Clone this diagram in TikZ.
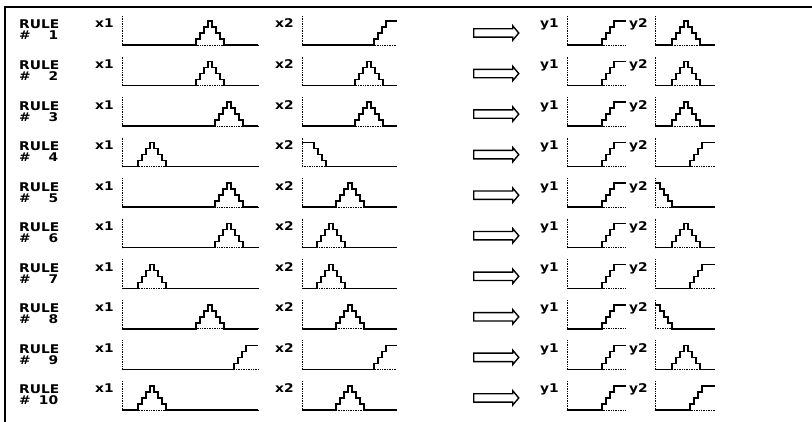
\documentclass[tikz,border=0pt]{standalone}
\usepackage{fontspec}
\usepackage{tikz}
\usetikzlibrary{shapes.arrows}
\newfontfamily\pixfont{DejaVu Sans}[FakeStretch=1.15]

% stepped membership functions: axis x, end x, baseline y, position
\newcommand{\memtri}[4]{\draw[mf] (#1,#3) -| ({#4-14},{#3-6}) -| ({#4-10},{#3-12}) -| ({#4-6},{#3-18}) -| ({#4-2},{#3-24}) -| ({#4+2},{#3-18}) -| ({#4+6},{#3-12}) -| ({#4+10},{#3-6}) -| ({#4+14},#3) -- (#2,#3);}
\newcommand{\memup}[4]{\draw[mf] (#1,#3) -| (#4,{#3-6}) -| ({#4+4},{#3-12}) -| ({#4+8},{#3-18}) -| ({#4+12},{#3-24}) -- (#2,{#3-24});}
\newcommand{\memdown}[4]{\draw[mf] (#1,{#3-24}) -| ({#4-12},{#3-18}) -| ({#4-8},{#3-12}) -| ({#4-4},{#3-6}) -| (#4,#3) -- (#2,#3);}
\newcommand{\memplot}[5]{%
  \draw[axis] (#2,{#4-29}) -- (#2,#4) -- (#3,#4);
  \csname mem#1\endcsname{#2}{#3}{#4}{#5}}

\begin{document}
\begin{tikzpicture}[
    x=1pt, y=-1pt,
    lbl/.style={font={\pixfont\bfseries\fontsize{12}{12}\selectfont}, inner sep=0pt, anchor=base west},
    axis/.style={line width=0.8pt, dash pattern=on 0.8pt off 0.9pt},
    mf/.style={line width=1.5pt},
    impl/.style={single arrow, draw, line width=1.4pt, minimum height=45pt, inner xsep=0pt, inner ysep=3.5pt,
      single arrow head extend=3pt, single arrow tip angle=100}]
  \useasboundingbox (0,0) rectangle (812,422);
  \draw[line width=1.8pt] (812,7) -- (5,7) -- (5,422);
  \foreach \ru/\fa/\pa/\fb/\pb/\fy/\py in {1/tri/210/up/374/tri/686, 2/tri/210/tri/369/tri/686,
      3/tri/229/tri/369/tri/686, 4/tri/152/down/326/up/690, 5/tri/229/tri/350/down/672,
      6/tri/229/tri/331/tri/686, 7/tri/152/tri/331/up/690, 8/tri/210/tri/350/down/672,
      9/up/234/up/374/tri/686, 10/tri/152/tri/350/up/690}{
    \pgfmathsetmacro{\base}{45+(\ru-1)*40.55}
    \node[lbl] (rule\ru) at (19,{\base-16}) {RULE};
    \node[lbl] (num\ru) at (19,{\base-5}) {\makebox[39pt]{\#\hfill\ru}};
    \node[lbl] (xa\ru) at (95,{\base-17}) {x1};
    \node[lbl] (xb\ru) at (275,{\base-17}) {x2};
    \node[impl] (arr\ru) at (494.5,{\base-12}) {};
    \node[lbl] (ya\ru) at (540,{\base-17}) {y1};
    \node[lbl] (yb\ru) at (629,{\base-17}) {y2};
    \memplot{\fa}{122}{258}{\base}{\pa}
    \memplot{\fb}{302}{397}{\base}{\pb}
    \memplot{up}{567}{626}{\base}{602}
    \memplot{\fy}{655}{715}{\base}{\py}
  }
\end{tikzpicture}
\end{document}
